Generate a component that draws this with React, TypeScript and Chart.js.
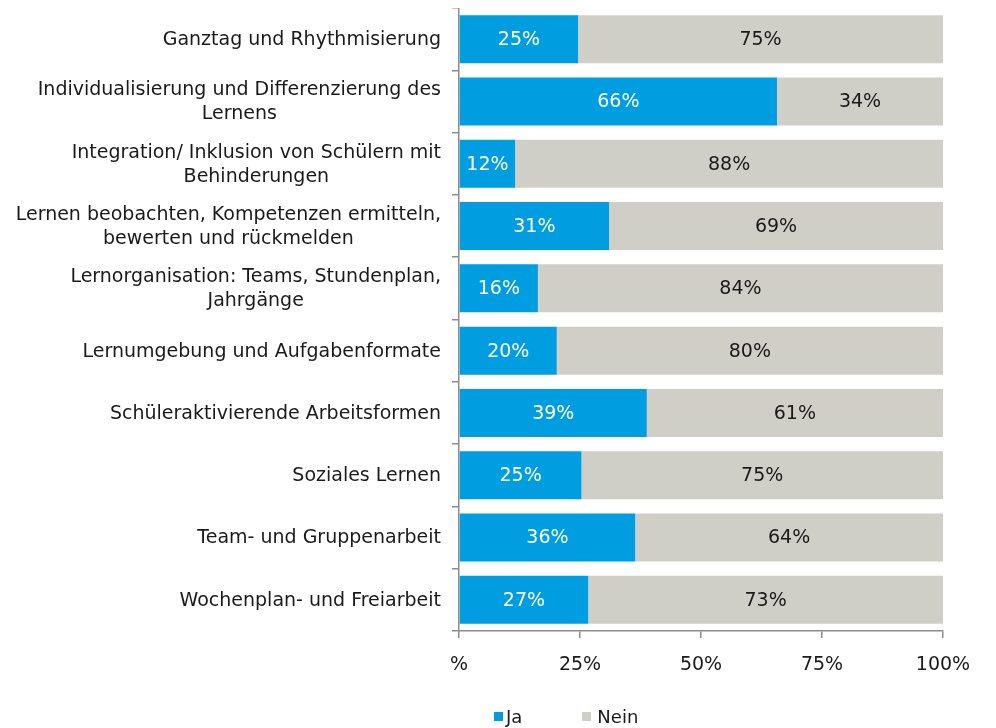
import React, { useEffect, useRef } from 'react';
import { Chart, registerables } from 'chart.js';
Chart.register(...registerables);

const categories: (string | string[])[] = [
  'Ganztag und Rhythmisierung',
  ['Individualisierung und Differenzierung des', 'Lernens'],
  ['Integration/ Inklusion von Schülern mit', 'Behinderungen'],
  ['Lernen beobachten, Kompetenzen ermitteln,', 'bewerten und rückmelden'],
  ['Lernorganisation: Teams, Stundenplan,', 'Jahrgänge'],
  'Lernumgebung und Aufgabenformate',
  'Schüleraktivierende Arbeitsformen',
  'Soziales Lernen',
  'Team- und Gruppenarbeit',
  'Wochenplan- und Freiarbeit',
];

const jaValues = [24.6, 65.7, 11.6, 31.0, 16.3, 20.2, 38.8, 25.3, 36.4, 26.7];
const neinValues = [75.4, 34.3, 88.4, 69.0, 83.7, 79.8, 61.2, 74.7, 63.6, 73.3];
const seriesNames = ['Ja', 'Nein'];
const xTicks = [0, 25, 50, 75, 100];

const BLUE = '#009EE0';
const GREY = '#D0CFC7';
const AXIS = '#8C8C8C';
const FONT = '"DejaVu Sans", Verdana, sans-serif';
const TEXT = '#1a1a1a';
const FS = 19;

const labelPlugin = {
  id: 'barLabels',
  afterDatasetsDraw(chart: any) {
    const ctx = chart.ctx;
    ctx.save();
    ctx.font = `${FS}px ${FONT}`;
    ctx.textAlign = 'center';
    ctx.textBaseline = 'middle';
    chart.data.datasets.forEach((ds: any, di: number) => {
      const meta = chart.getDatasetMeta(di);
      meta.data.forEach((el: any, i: number) => {
        const v = ds.data[i];
        const x = (el.x + el.base) / 2;
        ctx.fillStyle = di === 0 ? '#ffffff' : TEXT;
        ctx.fillText(Math.round(v) + '%', x, el.y + 1);
      });
    });
    ctx.restore();
  },
};

// Category labels: each block right-aligned to the axis, its lines centred on each other
const categoryLabelPlugin = {
  id: 'categoryLabels',
  afterDraw(chart: any) {
    const ctx = chart.ctx;
    const ys = chart.scales.y;
    const right = chart.chartArea.left - 18;
    const lh = 24;
    ctx.save();
    ctx.font = `${FS}px ${FONT}`;
    ctx.textAlign = 'center';
    ctx.textBaseline = 'middle';
    ctx.fillStyle = TEXT;
    (chart.data.labels as any[]).forEach((lab: any, i: number) => {
      const lines: string[] = Array.isArray(lab) ? lab : [lab];
      const widest = Math.max(...lines.map((l) => ctx.measureText(l).width));
      const cx = right - widest / 2;
      const cy = ys.getPixelForTick(i);
      lines.forEach((l, k) => {
        ctx.fillText(l, cx, cy + (k - (lines.length - 1) / 2) * lh + 1);
      });
    });
    ctx.restore();
  },
};

export default function App() {
  const ref = useRef<HTMLCanvasElement>(null);
  useEffect(() => {
    if (!ref.current) return;
    const chart = new Chart(ref.current, {
      type: 'bar',
      data: {
        labels: categories as any,
        datasets: [
          { label: seriesNames[0], data: jaValues, backgroundColor: BLUE, barPercentage: 0.77, categoryPercentage: 1 },
          { label: seriesNames[1], data: neinValues, backgroundColor: GREY, barPercentage: 0.77, categoryPercentage: 1 },
        ],
      },
      options: {
        indexAxis: 'y',
        animation: false,
        responsive: false,
        layout: { autoPadding: false, padding: { left: 0, right: 45, top: 0, bottom: 0 } },
        plugins: { legend: { display: false }, tooltip: { enabled: false } },
        scales: {
          x: {
            stacked: true,
            min: 0,
            max: 100,
            afterBuildTicks: (s: any) => { s.ticks = xTicks.map((v) => ({ value: v })); },
            afterFit: (s: any) => { s.height = 97; s.paddingLeft = 0; s.paddingRight = 0; },
            border: { display: true, color: AXIS, width: 1.5 },
            grid: { drawOnChartArea: false, drawTicks: true, tickLength: 7, color: AXIS, lineWidth: 1.5 },
            ticks: {
              padding: 16,
              color: TEXT,
              font: { family: FONT, size: FS },
              callback: (v: any) => (Number(v) === 0 ? '%' : v + '%'),
              maxRotation: 0,
            },
          },
          y: {
            stacked: true,
            afterFit: (s: any) => { s.width = 451; s.paddingTop = 0; s.paddingBottom = 0; },
            border: { display: true, color: AXIS, width: 1.5 },
            grid: { offset: true, drawOnChartArea: false, drawTicks: true, tickLength: 7, color: AXIS, lineWidth: 1.5 },
            ticks: { display: false, autoSkip: false },
          },
        },
      },
      plugins: [labelPlugin, categoryLabelPlugin],
    });
    return () => chart.destroy();
  }, []);

  const legendItem = (name: string, color: string, ml: number, gap: number) => (
    <span style={{ display: 'inline-flex', alignItems: 'center', marginLeft: ml }}>
      <span style={{ display: 'inline-block', width: 9, height: 9, background: color, marginRight: gap }} />
      <span>{name}</span>
    </span>
  );

  return (
    <div style={{ position: 'relative', width: 980, height: 720 }}>
      <canvas ref={ref} width={980} height={720} style={{ display: 'block' }} />
      <div
        style={{
          position: 'absolute',
          left: 486,
          top: 695,
          fontFamily: FONT,
          fontSize: 18,
          color: TEXT,
          whiteSpace: 'nowrap',
          lineHeight: '24px',
        }}
      >
        {legendItem(seriesNames[0], BLUE, 0, 3)}
        {legendItem(seriesNames[1], GREY, 60, 6)}
      </div>
    </div>
  );
}
